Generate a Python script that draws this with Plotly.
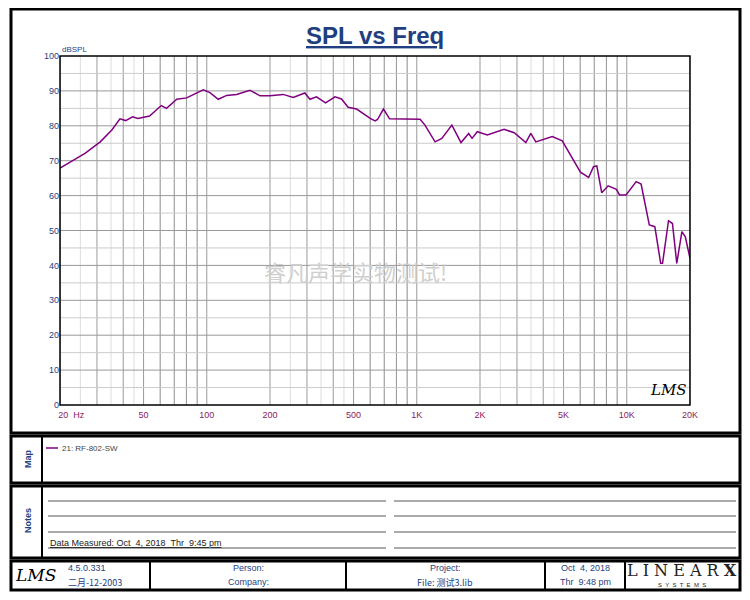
import plotly.graph_objects as go

freq = [20, 26.3, 31.1, 35.3, 38.6, 41.1, 44.3, 47.0, 53.4, 60.7, 64.3, 72.0, 80.2, 96.2, 103.5, 113.4, 124.3, 138.7,
        160.5, 179.3, 200, 231, 258, 293, 310, 333, 368, 408, 438, 471, 517, 600, 633, 650, 694, 742, 1037, 1094,
        1222, 1316, 1469, 1624, 1767, 1833, 1941, 2168, 2604, 2910, 3306, 3490, 3687, 4418, 4929, 5597, 6016,
        6581, 6944, 7200, 7600, 8154, 8920, 9240, 9920, 11080, 11700, 12800, 13600, 14500, 14800, 15800, 16500,
        17300, 18300, 19000, 19800, 20000]
spl = [67.9, 72.1, 75.4, 78.8, 82.0, 81.5, 82.6, 82.1, 82.8, 85.8, 85.0, 87.6, 88.0, 90.3, 89.5, 87.6, 88.7, 89.0,
       90.2, 88.6, 88.6, 89.0, 88.1, 89.4, 87.6, 88.3, 86.6, 88.3, 87.7, 85.3, 84.8, 82.1, 81.4, 81.8, 84.8, 82.0,
       81.9, 80.2, 75.4, 76.4, 80.2, 75.2, 77.8, 76.4, 78.3, 77.4, 79.0, 78.0, 75.2, 77.8, 75.4, 76.9, 75.7, 70.2,
       66.7, 65.2, 68.3, 68.5, 60.8, 62.8, 61.8, 60.2, 60.2, 64.0, 63.3, 51.6, 51.1, 40.6, 40.6, 52.8, 52.0, 40.6,
       49.7, 48.2, 42.5, 42.0]
xtick_vals = [20, 50, 100, 200, 500, 1000, 2000, 5000, 10000, 20000]
xtick_text = ["&nbsp;" * 9 + "20  Hz", "50", "100", "200", "500", "1K", "2K", "5K", "10K", "20K"]
ytick_vals = list(range(0, 101, 10))

minor_x = [m * d for d in (10, 100, 1000, 10000) for m in range(1, 10) if 20 <= m * d <= 20000]
half_x = [m * d for d in (10, 100, 1000) for m in (2.5, 3.5, 4.5, 6, 7, 8, 9) if 20 <= m * d <= 20000]

fig = go.Figure()
fig.add_trace(go.Scatter(x=freq, y=spl, mode="lines", line=dict(color="#800080", width=1.5), showlegend=False))

O = 8  # page body offset
W, H = 750 - O, 600 - O
L, R, T, B = 60, 690, 56, 405
def px(X): return (X - L) / (R - L)
def py(Y): return (B - Y) / (B - T)

shapes = []
for f in half_x:
    shapes.append(dict(type="line", xref="x", yref="paper", x0=f, x1=f, y0=0, y1=1,
                       line=dict(color="#dddddd", width=1), layer="below"))
for f in minor_x:
    shapes.append(dict(type="line", xref="x", yref="paper", x0=f, x1=f, y0=0, y1=1,
                       line=dict(color="#999999", width=1), layer="below"))
for v in range(5, 100, 10):
    shapes.append(dict(type="line", xref="paper", yref="y", x0=0, x1=1, y0=v, y1=v,
                       line=dict(color="#cccccc", width=1), layer="below"))
for v in range(10, 100, 10):
    shapes.append(dict(type="line", xref="paper", yref="y", x0=0, x1=1, y0=v, y1=v,
                       line=dict(color="#999999", width=1), layer="below"))

def rect(x0, y0, x1, y1, w=3):
    shapes.append(dict(type="rect", xref="paper", yref="paper", x0=px(x0), x1=px(x1), y0=py(y1), y1=py(y0),
                       line=dict(color="black", width=w)))
def hline(x0, x1, y, w=1, c="#555555"):
    shapes.append(dict(type="line", xref="paper", yref="paper", x0=px(x0), x1=px(x1), y0=py(y), y1=py(y),
                       line=dict(color=c, width=w)))
def vline(x, y0, y1, w=2):
    shapes.append(dict(type="line", xref="paper", yref="paper", x0=px(x), x1=px(x), y0=py(y0), y1=py(y1),
                       line=dict(color="black", width=w)))

rect(L, T, R, B, 1.5)
rect(11, 9, 740, 433)
rect(11, 436, 740, 483)
rect(11, 486, 740, 558)
rect(11, 561, 740, 590)
vline(42, 436, 483); vline(42, 486, 558)
for x in (150, 346, 545, 625):
    vline(x, 561, 590)
for y in (501, 516, 532, 548):
    hline(48, 386, y); hline(394, 736, y)
hline(46, 58, 448, 1.5, "#800080")

ann = []
def text(X, Y, s, size=9, color="#1f3f7f", xa="center", **kw):
    ann.append(dict(xref="paper", yref="paper", x=px(X), y=py(Y), text=s, showarrow=False,
                    font=dict(size=size, color=color, family=kw.pop("family", "Liberation Sans Narrow, Arial")),
                    xanchor=xa, yanchor="middle", **kw))

text(375, 36, "<b><u>SPL vs Freq</u></b>", 24, "#1f3f7f", family="Liberation Sans, Arial")
text(60, 49, "dBSPL", 8, "#1f3f7f", xa="left", family="Liberation Sans, Arial")
text(355, 271, "睿凡声学实物测试!", 22, "#cfcfcf", family="Noto Sans CJK SC")
text(668, 390, "<i>LMS</i>", 15, "black", family="DejaVu Serif")
text(60, 448, "21: RF-802-SW", 8, "#444444", xa="left", family="Liberation Sans")
text(28, 459, "<b>Map</b>", 9, "#1f3f7f", textangle=-90, family="Liberation Sans")
text(28, 521, "<b>Notes</b>", 9, "#1f3f7f", textangle=-90, family="Liberation Sans")
text(48, 543, "<u>Data Measured: Oct  4, 2018  Thr  9:45 pm</u>", 9, "#222222", xa="left")
text(35, 575, "<i>LMS</i>", 17, "black", family="DejaVu Serif")
text(66, 568, "4.5.0.331", 9, "#1f3f7f", xa="left")
text(66, 582, "二月-12-2003", 9, "#1f3f7f", xa="left", family="Noto Sans CJK SC")
text(248, 568, "Person:", 9)
text(248, 582, "Company:", 9)
text(445, 568, "Project:", 9)
text(445, 582, "File: 测试3.lib", 9, family="Noto Sans CJK SC")
text(585, 568, "Oct  4, 2018", 9)
text(585, 582, "Thr  9:48 pm", 9)
text(682, 570, "L I N E A R <b>X</b>", 16, "#222222", family="DejaVu Serif")
text(682, 585, "S  Y  S  T  E  M  S", 6, "#222222", family="Liberation Sans")

fig.update_layout(
    width=W, height=H, margin=dict(l=L - O, r=W - R + O, t=T - O, b=H - B + O),
    paper_bgcolor="white", plot_bgcolor="white", shapes=shapes, annotations=ann,
    xaxis=dict(type="log", range=[1.30103, 4.30103], tickvals=xtick_vals, ticktext=xtick_text,
               ticklabelstandoff=3,
               showgrid=False, zeroline=False, ticks="", tickfont=dict(size=9, color="#8b1a5a", family="Liberation Sans")),
    yaxis=dict(range=[0, 100], tickvals=ytick_vals, showgrid=False, zeroline=False, ticks="",
               tickfont=dict(size=9, color="#1f3f7f", family="Liberation Sans")),
)
fig.write_html("out.html")
